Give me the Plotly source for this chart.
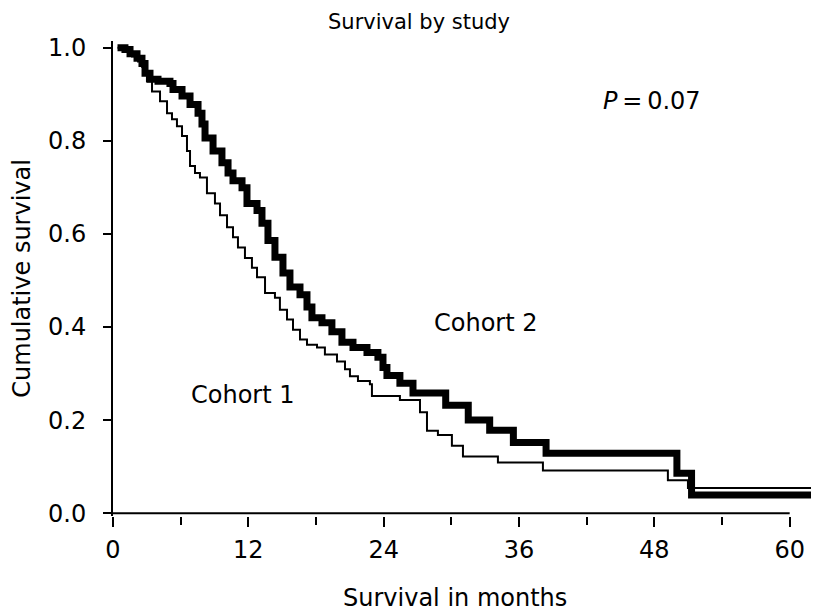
import plotly.graph_objects as go

# Kaplan-Meier curves (months, cumulative survival)
cohort1_t = [0.4, 1.06, 1.68, 2.22, 2.57, 3.01, 3.46, 4.17, 4.79, 5.23, 5.67, 6.12, 6.56, 6.83,
             7.27, 7.71, 8.33, 9.04, 9.49, 10.11, 10.64, 11.08, 11.70, 12.32, 12.77, 13.48,
             14.36, 14.80, 15.43, 15.96, 16.58, 17.20, 18.09, 18.79, 19.86, 20.57, 21.01,
             21.72, 22.78, 22.96, 25.44, 27.22, 27.84, 28.81, 30.05, 31.03, 34.13, 38.12,
             49.2, 50.98, 62.6]
cohort1_s = [1.0, 0.991, 0.981, 0.970, 0.959, 0.928, 0.906, 0.885, 0.859, 0.846, 0.831, 0.810,
             0.778, 0.746, 0.731, 0.721, 0.687, 0.665, 0.640, 0.614, 0.593, 0.571, 0.548,
             0.527, 0.507, 0.473, 0.463, 0.437, 0.416, 0.394, 0.373, 0.362, 0.356, 0.341,
             0.326, 0.309, 0.294, 0.284, 0.277, 0.252, 0.243, 0.217, 0.177, 0.168, 0.145,
             0.122, 0.109, 0.092, 0.071, 0.054, 0.054]

cohort2_t = [0.4, 1.06, 1.51, 2.13, 2.57, 2.84, 3.28, 3.99, 5.05, 5.32, 6.12, 6.83, 7.54, 7.89,
             8.16, 8.87, 9.66, 10.20, 10.64, 11.44, 11.88, 12.77, 13.21, 13.74, 14.36, 15.07,
             15.69, 16.58, 17.20, 17.64, 18.53, 19.41, 20.30, 21.28, 22.52, 23.49, 23.94,
             24.29, 25.44, 26.60, 29.5, 31.5, 33.4, 35.5, 38.4, 50.0, 51.3, 62.6]
cohort2_s = [1.0, 0.996, 0.987, 0.977, 0.966, 0.945, 0.932, 0.928, 0.923, 0.910, 0.896, 0.878,
             0.859, 0.836, 0.806, 0.778, 0.753, 0.731, 0.714, 0.699, 0.665, 0.650, 0.623,
             0.586, 0.550, 0.516, 0.486, 0.469, 0.443, 0.420, 0.409, 0.390, 0.367, 0.356,
             0.345, 0.335, 0.313, 0.296, 0.279, 0.258, 0.232, 0.200, 0.178, 0.152, 0.129,
             0.086, 0.039, 0.039]

x_ticks = [0, 12, 24, 36, 48, 60]
y_ticks = [0.0, 0.2, 0.4, 0.6, 0.8, 1.0]

FONT = "DejaVu Sans"

fig = go.Figure()
fig.add_trace(go.Scatter(x=cohort1_t, y=cohort1_s, mode="lines", line_shape="hv",
                         line=dict(color="black", width=2), name="Cohort 1"))
fig.add_trace(go.Scatter(x=cohort2_t, y=cohort2_s, mode="lines", line_shape="hv",
                         line=dict(color="black", width=7), name="Cohort 2"))

# x axis line stops at 60 months
fig.add_shape(type="line", x0=0, x1=60, y0=0, y1=0, xref="x", yref="y",
              line=dict(color="black", width=2))

fig.update_xaxes(range=[0, 62.6], tickvals=x_ticks, ticks="outside", ticklen=10,
                 tickwidth=2, tickcolor="black", showline=False, showgrid=False,
                 zeroline=False, ticklabelstandoff=2,
                 minor=dict(dtick=6, tick0=0, ticks="outside", ticklen=8,
                            tickwidth=2, tickcolor="black", showgrid=False),
                 tickfont=dict(family=FONT, size=24, color="black"))
fig.update_yaxes(range=[-0.006, 1.0143], tickvals=y_ticks, tickformat=".1f",
                 ticks="outside", ticklen=8, tickwidth=2, tickcolor="black",
                 showline=True, linecolor="black", linewidth=2, showgrid=False,
                 zeroline=False, ticklabelstandoff=12,
                 tickfont=dict(family=FONT, size=24, color="black"))

txt = dict(family=FONT, size=24, color="black")
center = dict(showarrow=False, xanchor="center", yanchor="middle")
fig.add_annotation(text="Survival by study", xref="paper", yref="paper", x=0.433, y=1.04,
                   font=dict(family=FONT, size=21, color="black"), **center)
fig.add_annotation(text="Survival in months", xref="paper", yref="paper", x=0.484, y=-0.173,
                   font=txt, **center)
fig.add_annotation(text="Cumulative survival", xref="paper", yref="paper", x=-0.13, y=0.5,
                   textangle=-90, font=txt, **center)
fig.add_annotation(text="<i>P</i>\u2009=\u20090.07", x=47.8, y=0.886, font=txt, **center)
fig.add_annotation(text="Cohort 2", x=33.1, y=0.408, font=txt, **center)
fig.add_annotation(text="Cohort 1", x=11.5, y=0.253, font=txt, **center)

# page body has an 8px margin, so the figure is sized to fit the window after it
fig.update_layout(width=811, height=605, margin=dict(l=105, r=0, t=33, b=97),
                  plot_bgcolor="white", paper_bgcolor="white", showlegend=False)

fig.write_html("out.html")
